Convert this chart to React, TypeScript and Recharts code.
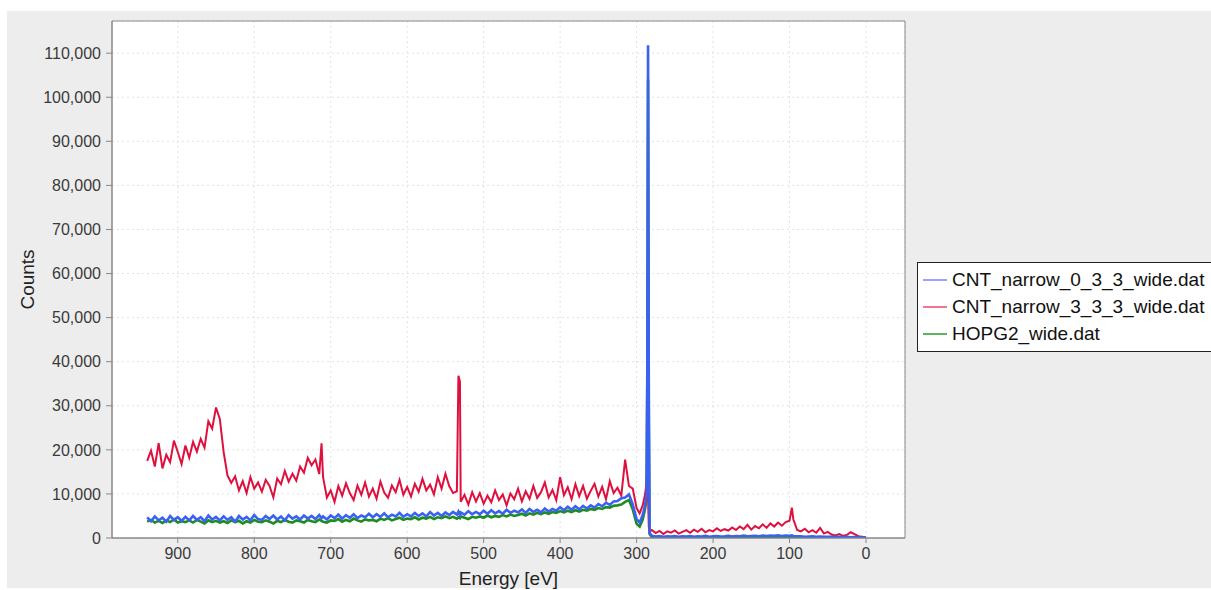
import { LineChart, Line, XAxis, YAxis, CartesianGrid, Legend, ReferenceArea } from 'recharts'

// binding energy grid (eV), high to low
const energy = [
  940, 935, 930, 925, 920, 915, 910, 905, 900, 895,
  890, 885, 880, 875, 870, 865, 860, 855, 850, 845,
  840, 835, 830, 825, 820, 815, 810, 805, 800, 795,
  790, 785, 780, 775, 770, 765, 760, 755, 750, 745,
  740, 735, 730, 725, 720, 715, 712, 710, 705, 700,
  695, 690, 685, 680, 675, 670, 665, 660, 655, 650,
  645, 640, 635, 630, 625, 620, 615, 610, 605, 600,
  595, 590, 585, 580, 575, 570, 565, 560, 555, 550,
  545, 540, 535, 533, 531, 530, 525, 520, 515, 510,
  505, 500, 495, 490, 485, 480, 475, 470, 465, 460,
  455, 450, 445, 440, 435, 430, 425, 420, 415, 410,
  405, 400, 395, 390, 385, 380, 375, 370, 365, 360,
  355, 350, 345, 340, 335, 330, 325, 320, 315, 310,
  305, 300, 296, 292, 289, 287, 286, 285, 284, 283,
  280, 275, 270, 265, 260, 255, 250, 245, 240, 235,
  230, 225, 220, 215, 210, 205, 200, 195, 190, 185,
  180, 175, 170, 165, 160, 155, 150, 145, 140, 135,
  130, 125, 120, 115, 110, 105, 100, 97, 95, 90,
  85, 80, 75, 70, 65, 60, 55, 50, 45, 40,
  35, 30, 25, 20, 15, 10, 5, 0,
]

const cnt033 = [
  4700, 3800, 4900, 4000, 4600, 3700, 5000, 4100, 4700, 3900,
  4800, 4000, 5000, 4100, 4700, 3800, 5100, 4200, 4800, 4000,
  4900, 4100, 4700, 3700, 5000, 4200, 4800, 4000, 5200, 4300,
  4100, 5000, 4300, 5100, 4200, 4900, 4000, 5200, 4400, 4900,
  4200, 5100, 4400, 5000, 4300, 5200, 4500, 4900, 4200, 5100,
  4500, 5300, 4400, 5200, 4600, 5400, 4500, 5100, 4700, 5500,
  4700, 5400, 4800, 5600, 4700, 5300, 4900, 5700, 4800, 5400,
  4900, 5700, 5000, 5600, 4900, 5900, 5100, 5700, 5000, 5800,
  5200, 5900, 5300, 6000, 5200, 5800, 5300, 6100, 5400, 5900,
  5400, 6200, 5500, 6300, 5600, 6100, 5500, 6400, 5700, 6200,
  5800, 6500, 5700, 6600, 5900, 6400, 5800, 6700, 6000, 6600,
  6200, 7000, 6300, 7100, 6400, 7200, 6500, 7300, 6700, 7400,
  6900, 7700, 7200, 8000, 7500, 8300, 8400, 9000, 9200, 9900,
  7600, 4300, 3500, 5200, 7400, 9500, 38000, 111800, 30000, 1200,
  500, 350, 450, 300, 400, 350, 450, 300, 400, 350,
  450, 300, 400, 350, 500, 300, 400, 450, 350, 400,
  500, 350, 450, 400, 550, 400, 450, 500, 400, 550,
  450, 550, 500, 600, 450, 550, 500, 600, 450, 400,
  400, 300, 350, 400, 300, 350, 250, 300, 250, 200,
  250, 200, 250, 150, 200, 150, 100, 50,
]

const cnt333 = [
  17500, 19800, 16200, 21500, 15800, 18900, 17200, 22100, 19500, 16800,
  21000, 18200, 21800, 19600, 22500, 20500, 26500, 24800, 29600, 27000,
  19500, 14200, 12500, 14000, 10800, 12900, 10200, 13800, 11200, 12600,
  10500, 13200, 11800, 9200, 13500, 12200, 15200, 12800, 14600, 13000,
  16200, 14800, 18200, 16500, 17800, 14500, 21500, 13800, 9200, 10800,
  8200, 11800, 9600, 12400, 10200, 8600, 11900, 9800, 12600, 9400,
  11200, 8900, 12800, 10300, 9100, 11900, 10400, 13200, 9800, 11600,
  9400, 12300, 10500, 13400, 10800, 12100, 9900, 13800, 11200, 14600,
  11800, 10200, 10600, 36800, 35500, 8200, 9800, 7600, 10400, 8300,
  10200, 7800, 9600, 8100, 10800, 8600, 9900, 7400, 10100, 8800,
  11200, 8300, 10600, 8900, 11800, 9100, 10400, 12600, 9200, 10900,
  8600, 13800, 9700, 11500, 8800, 12200, 9500, 11800, 8900, 10700,
  12300, 9400, 11600, 8800, 12900, 10200, 11400, 9600, 17800, 11800,
  11200, 6800, 5600, 7400, 9800, 12500, 16200, 9000, 2500, 1400,
  1800, 1100, 1600, 900, 1500, 1200, 1700, 1000, 1400, 1800,
  1200, 1900, 1400, 2100, 1300, 1800, 1500, 2200, 1600, 2000,
  1700, 2400, 1800, 2600, 2000, 3000, 1900, 2700, 2200, 3100,
  2300, 3300, 2600, 3500, 2800, 3600, 3900, 6900, 4200, 1800,
  1500, 2100, 1300, 1800, 1200, 2300, 1000, 1400, 800, 600,
  900, 500, 700, 1300, 900, 400, 300, 100,
]

const hopg2 = [
  3700, 4100, 3500, 3900, 3400, 4000, 3600, 4200, 3500, 3800,
  3600, 4000, 3500, 4100, 3700, 3300, 4000, 3600, 3900, 3500,
  3800, 3400, 4000, 3600, 3900, 3300, 3800, 3500, 4100, 3700,
  3600, 4000, 3700, 3300, 3900, 3600, 4100, 3700, 3500, 4000,
  3800, 3500, 4100, 3800, 3600, 4200, 3900, 3700, 3500, 4000,
  3900, 4300, 3700, 4100, 3800, 4400, 4000, 3700, 4200, 4000,
  4100, 3800, 4400, 4100, 4500, 4000, 4300, 4600, 4100, 4400,
  4300, 4700, 4200, 4600, 4400, 4800, 4300, 4700, 4500, 4900,
  4500, 4800, 4400, 4700, 4500, 4900, 4600, 4300, 4800, 4600,
  4900, 4600, 5100, 4700, 5000, 4800, 5200, 4900, 5300, 5000,
  5200, 5500, 5100, 5600, 5300, 5700, 5400, 5800, 5500, 5900,
  5700, 6100, 5800, 6200, 5900, 6300, 6000, 6400, 6200, 6600,
  6400, 6800, 6600, 7000, 6900, 7300, 7400, 7600, 8200, 8600,
  6500, 3200, 2600, 4200, 6500, 8800, 35000, 104000, 26000, 900,
  200, 150, 200, 100, 150, 200, 100, 150, 200, 150,
  150, 200, 100, 150, 200, 150, 100, 200, 150, 100,
  150, 200, 150, 100, 200, 150, 200, 100, 150, 200,
  150, 100, 200, 150, 100, 200, 150, 200, 150, 100,
  150, 100, 150, 100, 150, 100, 100, 50, 100, 50,
  100, 50, 100, 50, 50, 50, 0, 0,
]

const seriesNames = ['CNT_narrow_0_3_3_wide.dat', 'CNT_narrow_3_3_3_wide.dat', 'HOPG2_wide.dat']
const seriesColors = ['#3a62f2', '#e0103e', '#1e8c1e']
const legendColors = ['#7a84ff', '#f0456a', '#2a9a2a']

const xTicks = [900, 800, 700, 600, 500, 400, 300, 200, 100, 0]
const yTicks = [0, 10000, 20000, 30000, 40000, 50000, 60000, 70000, 80000, 90000, 100000, 110000]

const data = energy.map((e, i) => ({ energy: e, cnt033: cnt033[i], cnt333: cnt333[i], hopg2: hopg2[i] }))

const font = "'Liberation Sans', Arial, sans-serif"

function LegendBox() {
  return (
    <div style={{ border: '1px solid #222', background: '#fff', padding: '3px 0 4px 5px', fontFamily: font, fontSize: 19, color: '#111', boxSizing: 'border-box' }}>
      {seriesNames.map((name, i) => (
        <div key={name} style={{ display: 'flex', alignItems: 'center', height: 27 }}>
          <svg width={24} height={4} style={{ marginRight: 5 }}>
            <line x1={0} y1={2} x2={24} y2={2} stroke={legendColors[i]} strokeWidth={1.5} />
          </svg>
          <span style={{ whiteSpace: 'nowrap' }}>{name}</span>
        </div>
      ))}
    </div>
  )
}

export default function App() {
  return (
    <div style={{ position: 'absolute', left: 0, top: 0, width: 1211, height: 590, background: '#fff', overflow: 'hidden' }}>
      <div style={{ position: 'absolute', left: 7, top: 11, width: 1204, height: 577, background: '#ededed' }} />
      <div style={{ position: 'absolute', left: 0, top: 0 }}>
        <LineChart width={1211} height={590} data={data} margin={{ top: 21, right: 306, bottom: 0, left: 0 }}>
          <CartesianGrid stroke="#e2e2e2" strokeDasharray="2 3" fill="#ffffff" fillOpacity={1} />
          <XAxis
            dataKey="energy"
            type="number"
            domain={[-51, 986]}
            reversed
            ticks={xTicks}
            allowDataOverflow
            height={52}
            tickSize={5}
            tickMargin={5}
            stroke="#888"
            tick={{ fontFamily: font, fontSize: 16, fill: '#3a3a3a' }}
            label={{ value: 'Energy [eV]', position: 'insideBottom', offset: 5, style: { fontFamily: font, fontSize: 19, fill: '#222' } }}
          />
          <YAxis
            type="number"
            domain={[0, 117300]}
            ticks={yTicks}
            allowDataOverflow
            width={112}
            tickSize={6}
            tickMargin={5}
            stroke="#888"
            tickFormatter={(v: number) => v.toLocaleString('en-US')}
            tick={{ fontFamily: font, fontSize: 16, fill: '#3a3a3a' }}
            label={{ value: 'Counts', angle: -90, position: 'insideLeft', offset: 27, style: { fontFamily: font, fontSize: 19, fill: '#222', textAnchor: 'middle' } }}
          />
          <ReferenceArea x1={-51} x2={986} y1={0} y2={117300} fill="none" stroke="#8a8a8a" strokeWidth={1} />
          <Line dataKey="hopg2" stroke={seriesColors[2]} strokeWidth={2.6} dot={false} type="linear" isAnimationActive={false} />
          <Line dataKey="cnt333" stroke={seriesColors[1]} strokeWidth={2} dot={false} type="linear" isAnimationActive={false} />
          <Line dataKey="cnt033" stroke={seriesColors[0]} strokeWidth={2.6} dot={false} type="linear" isAnimationActive={false} />
          <Legend
            layout="horizontal"
            verticalAlign="middle"
            align="center"
            wrapperStyle={{ left: 917, top: 262, width: 300, height: 89 }}
            content={() => <LegendBox />}
          />
        </LineChart>
      </div>
    </div>
  )
}
